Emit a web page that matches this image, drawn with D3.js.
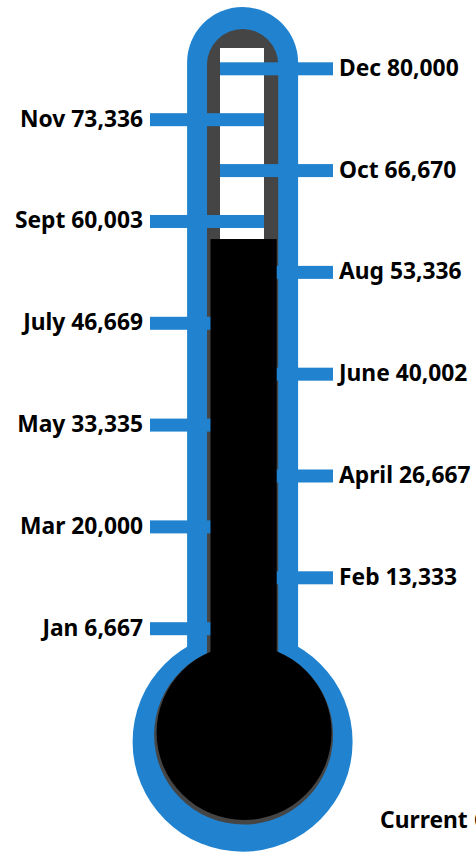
<!DOCTYPE html>
<html>
<head>
<meta charset="utf-8">
<script src="https://cdn.jsdelivr.net/npm/d3@7"></script>
<style>
  html, body { margin: 0; padding: 0; background: #fff; overflow: hidden; }
</style>
</head>
<body>
<div id="chart"></div>
<script>
// Data
const months = ["Jan", "Feb", "Mar", "April", "May", "June", "July", "Aug", "Sept", "Oct", "Nov", "Dec"];
const goals = [6667, 13333, 20000, 26667, 33335, 40002, 46669, 53336, 60003, 66670, 73336, 80000];
const currentValue = 57700;
const currentLabel = "Current Giving";

const width = 476, height = 853;
const blue = "#2183cf", gray = "#454545";
const fontFamily = "'Noto Sans', 'Open Sans', sans-serif";

const svg = d3.select("#chart")
    .append("svg")
    .attr("width", width)
    .attr("height", height);

// Scale for the thermometer (value -> y)
const yScale = d3.scaleLinear().domain([0, 80000]).range([679.6, 68.8]);

const cx = 242.6;

// Outer blue tube + bulb
svg.append("rect")
    .attr("x", cx - 55.5).attr("y", 7)
    .attr("width", 111).attr("height", 720)
    .attr("rx", 55.5)
    .attr("fill", blue);
svg.append("circle")
    .attr("cx", cx).attr("cy", 741.7).attr("r", 110)
    .attr("fill", blue);

// Gray glass
svg.append("rect")
    .attr("x", cx - 35.6).attr("y", 29)
    .attr("width", 71.2).attr("height", 680)
    .attr("rx", 35.6)
    .attr("fill", gray);
svg.append("circle")
    .attr("cx", cx + 1).attr("cy", 735).attr("r", 89.5)
    .attr("fill", gray);

// White empty part of the tube
svg.append("rect")
    .attr("x", 220).attr("y", 48)
    .attr("width", 44).attr("height", yScale(currentValue) - 48)
    .attr("fill", "#fff");

// Ticks and labels
const ticks = months.map((m, i) => ({ month: m, value: goals[i], left: i % 2 === 0 }));
const fmt = d3.format(",");

svg.selectAll("rect.tick")
    .data(ticks)
    .join("rect")
    .attr("class", "tick")
    .attr("x", d => d.left ? 150 : 220)
    .attr("width", d => d.left ? 114 : 113)
    .attr("y", d => yScale(d.value) - 6.5)
    .attr("height", 13)
    .attr("fill", blue);

svg.selectAll("text.label")
    .data(ticks)
    .join("text")
    .attr("class", "label")
    .attr("x", d => d.left ? 143 : 339)
    .attr("y", d => yScale(d.value) + 7)
    .attr("text-anchor", d => d.left ? "end" : "start")
    .style("font-family", fontFamily)
    .style("font-weight", "bold")
    .style("font-size", "22.8px")
    .attr("fill", "#000")
    .text(d => `${d.month} ${fmt(d.value)}`);

// Mercury
svg.append("rect")
    .attr("x", 210.5).attr("y", yScale(currentValue))
    .attr("width", 66.2).attr("height", 700 - yScale(currentValue))
    .attr("fill", "#000");
svg.append("circle")
    .attr("cx", cx + 1.5).attr("cy", 732.5).attr("r", 87.5)
    .attr("fill", "#000");

// Current label (runs off the right edge, as in the original)
svg.append("text")
    .attr("x", 380).attr("y", 828)
    .style("font-family", fontFamily)
    .style("font-weight", "bold")
    .style("font-size", "22.8px")
    .attr("fill", "#000")
    .text(currentLabel);
</script>
</body>
</html>
